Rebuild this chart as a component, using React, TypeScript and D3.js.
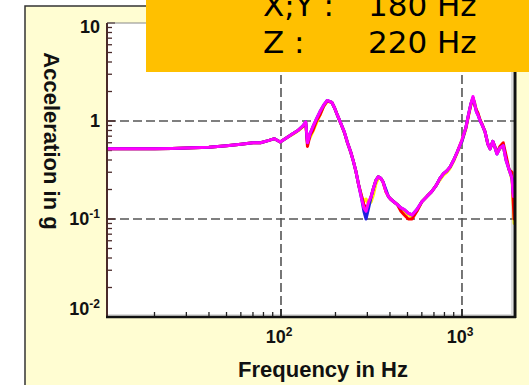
import React from "react";
import * as d3 from "d3";

const freqs = [11, 15, 20, 25, 30, 40, 50, 60, 70, 77, 85, 92, 99, 108, 116, 124, 132, 137, 140, 145, 150, 157, 164, 172, 180, 191, 198, 206, 215, 224, 233, 243, 251, 259, 269, 279, 287, 295, 305, 315, 325, 335, 345, 356, 366, 380, 392, 403, 420, 440, 460, 480, 505, 530, 563, 600, 640, 680, 720, 755, 790, 825, 860, 900, 940, 1000, 1050, 1090, 1120, 1150, 1175, 1200, 1226, 1260, 1290, 1340, 1390, 1430, 1480, 1520, 1560, 1620, 1690, 1750, 1820, 1890, 1920, 1940, 1955];

const yellowVals = [0.52, 0.52, 0.52, 0.525, 0.53, 0.54, 0.56, 0.58, 0.60, 0.60, 0.63, 0.66, 0.61, 0.68, 0.73, 0.79, 0.87, 0.95, 0.62, 0.68, 0.78, 0.95, 1.15, 1.40, 1.58, 1.55, 1.35, 1.12, 0.93, 0.77, 0.60, 0.48, 0.39, 0.31, 0.22, 0.17, 0.15, 0.16, 0.14, 0.15, 0.18, 0.23, 0.26, 0.26, 0.24, 0.19, 0.17, 0.16, 0.15, 0.14, 0.13, 0.12, 0.11, 0.105, 0.12, 0.15, 0.17, 0.19, 0.22, 0.25, 0.28, 0.30, 0.33, 0.39, 0.47, 0.62, 0.82, 1.15, 1.45, 1.70, 1.55, 1.30, 1.18, 1.02, 0.93, 0.78, 0.58, 0.53, 0.60, 0.54, 0.47, 0.52, 0.55, 0.42, 0.32, 0.25, 0.14, 0.09, 0.16];

const redVals = [0.52, 0.52, 0.52, 0.525, 0.53, 0.54, 0.56, 0.58, 0.60, 0.60, 0.63, 0.66, 0.61, 0.68, 0.74, 0.80, 0.88, 0.96, 0.55, 0.72, 0.80, 1.00, 1.15, 1.42, 1.60, 1.55, 1.35, 1.12, 0.92, 0.76, 0.60, 0.48, 0.39, 0.31, 0.22, 0.17, 0.14, 0.13, 0.14, 0.17, 0.21, 0.25, 0.27, 0.26, 0.24, 0.19, 0.17, 0.16, 0.15, 0.14, 0.12, 0.11, 0.10, 0.10, 0.12, 0.15, 0.17, 0.19, 0.22, 0.26, 0.29, 0.31, 0.34, 0.40, 0.48, 0.64, 0.85, 1.18, 1.48, 1.72, 1.45, 1.30, 1.20, 1.02, 0.93, 0.78, 0.58, 0.52, 0.62, 0.55, 0.47, 0.55, 0.60, 0.45, 0.32, 0.30, 0.15, 0.10, 0.12];

const blueVals = [0.52, 0.52, 0.52, 0.525, 0.53, 0.54, 0.56, 0.58, 0.60, 0.60, 0.63, 0.66, 0.61, 0.68, 0.74, 0.80, 0.89, 0.98, 0.60, 0.75, 0.87, 1.05, 1.24, 1.45, 1.62, 1.55, 1.35, 1.12, 0.93, 0.77, 0.60, 0.48, 0.39, 0.31, 0.22, 0.16, 0.12, 0.10, 0.13, 0.17, 0.21, 0.25, 0.27, 0.26, 0.24, 0.20, 0.17, 0.16, 0.15, 0.14, 0.13, 0.125, 0.115, 0.11, 0.125, 0.15, 0.17, 0.19, 0.22, 0.26, 0.29, 0.31, 0.34, 0.40, 0.48, 0.62, 0.85, 1.20, 1.50, 1.72, 1.50, 1.25, 1.15, 1.00, 0.92, 0.78, 0.58, 0.52, 0.62, 0.54, 0.46, 0.53, 0.56, 0.40, 0.32, 0.26, 0.18, 0.25, 0.21];

const magentaVals = [0.52, 0.52, 0.52, 0.525, 0.53, 0.54, 0.56, 0.58, 0.60, 0.60, 0.63, 0.66, 0.61, 0.68, 0.74, 0.80, 0.89, 0.98, 0.60, 0.75, 0.87, 1.05, 1.24, 1.45, 1.62, 1.55, 1.35, 1.12, 0.93, 0.77, 0.60, 0.48, 0.39, 0.31, 0.22, 0.16, 0.13, 0.12, 0.15, 0.17, 0.21, 0.25, 0.27, 0.26, 0.24, 0.19, 0.17, 0.16, 0.15, 0.14, 0.13, 0.125, 0.115, 0.11, 0.125, 0.15, 0.17, 0.19, 0.22, 0.26, 0.29, 0.31, 0.34, 0.40, 0.48, 0.64, 0.85, 1.20, 1.50, 1.78, 1.50, 1.25, 1.15, 1.00, 0.92, 0.78, 0.58, 0.52, 0.62, 0.54, 0.46, 0.53, 0.56, 0.40, 0.32, 0.26, 0.17, 0.22, 0.20];

const seriesNames = ["Yellow", "Red", "Blue", "Magenta"];
const seriesColors = ["#FFF200", "#FF0000", "#2020E0", "#FF00FF"];
const seriesValues = [yellowVals, redVals, blueVals, magentaVals];

const yTicks = [10, 1, 0.1, 0.01];
const yTickBase = ["10", "1", "10", "10"];
const yTickExp = ["", "", "-1", "-2"];
const xTicks = [100, 1000];
const xTickBase = ["10", "10"];
const xTickExp = ["2", "3"];
const gridY = [1, 0.1];
const gridX = [100, 1000];

const boxLine1 = ["X;Y :", "180 Hz"];
const boxLine2 = ["Z :", "220 Hz"];
const xTitle = "Frequency in Hz";
const yTitle = "Acceleration in g";

export default function App() {
  const W = 529, H = 385;
  const L = 107, R = 515, T = 23, B = 317;
  const x = d3.scaleLog().domain([10.93, 1963]).range([L, R]);
  const y = d3.scaleLog().domain([0.01, 10]).range([B, T]);
  const line = d3
    .line<[number, number]>()
    .x((d) => x(d[0]))
    .y((d) => y(d[1]));

  const yMinor: number[] = [];
  [0.01, 0.1, 1].forEach((dd) => {
    for (let k = 2; k <= 9; k++) yMinor.push(k * dd);
  });
  const xMinor: number[] = [];
  [10, 100, 1000].forEach((dd) => {
    for (let k = 2; k <= 9; k++) {
      const v = k * dd;
      if (v > 10.93 && v < 1963) xMinor.push(v);
    }
  });

  const font = "'Liberation Sans', Arial, sans-serif";
  const boxFont = "'DejaVu Sans', sans-serif";

  return (
    <svg
      width={W}
      height={H}
      style={{ position: "absolute", left: 0, top: 0 }}
      xmlns="http://www.w3.org/2000/svg"
    >
      <rect x={0} y={0} width={W} height={H} fill="#ffffff" />
      <rect x={25} y={6} width={540} height={420} fill="#FFFDD2" stroke="#333" strokeWidth={1.5} />
      <rect x={L} y={T} width={R - L} height={B - T} fill="#ffffff" />
      <defs>
        <clipPath id="plotclip">
          <rect x={L} y={T} width={R - L} height={B - T} />
        </clipPath>
      </defs>
      <line x1={L} x2={R - 2} y1={B - 2} y2={B - 2} stroke="#ddd" strokeWidth={2} />
      <line x1={R - 3} x2={R - 3} y1={T} y2={B} stroke="#ddd" strokeWidth={2} />
      {gridY.map((g, i) => (
        <line key={"gy" + i} x1={L} x2={R} y1={y(g)} y2={y(g)} stroke="#555" strokeWidth={1.6} strokeDasharray="9,4" />
      ))}
      {gridX.map((g, i) => (
        <line key={"gx" + i} x1={x(g)} x2={x(g)} y1={T} y2={B} stroke="#555" strokeWidth={1.6} strokeDasharray="9,4" />
      ))}
      {yMinor.map((v, i) => (
        <line key={"ym" + i} x1={L} x2={L + 5} y1={y(v)} y2={y(v)} stroke="#4a2a2a" strokeWidth={1.3} />
      ))}
      {yTicks.map((v, i) => (
        <line key={"yM" + i} x1={L} x2={L + 8} y1={y(v)} y2={y(v)} stroke="#4a2a2a" strokeWidth={1.5} />
      ))}
      {xMinor.map((v, i) => (
        <line key={"xm" + i} x1={x(v)} x2={x(v)} y1={B} y2={B - 5} stroke="#222" strokeWidth={1.3} />
      ))}
      {xTicks.map((v, i) => (
        <line key={"xM" + i} x1={x(v)} x2={x(v)} y1={B} y2={B - 8} stroke="#222" strokeWidth={1.5} />
      ))}
      <g clipPath="url(#plotclip)">
        {seriesValues.map((vals, si) => (
          <path
            key={seriesNames[si]}
            d={line(freqs.map((f, i) => [f, vals[i]] as [number, number])) || ""}
            fill="none"
            stroke={seriesColors[si]}
            strokeWidth={3}
            strokeLinejoin="round"
          />
        ))}
      </g>
      <line x1={L} x2={R} y1={T} y2={T} stroke="#888" strokeWidth={1} />
      <line x1={L} x2={L} y1={T} y2={B} stroke="#4a2a2a" strokeWidth={2} />
      <line x1={L - 1} x2={R + 1} y1={B} y2={B} stroke="#111" strokeWidth={2.5} />
      <line x1={R} x2={R} y1={T - 2} y2={B + 1} stroke="#111" strokeWidth={3} />
      {yTicks.map((v, i) => (
        <text
          key={"yl" + i}
          x={100}
          y={Math.min(Math.max(y(v) + 6, 33), 315)}
          textAnchor="end"
          fontFamily={font}
          fontWeight="bold"
          fontSize={18}
          fill="#111"
        >
          {yTickBase[i]}
          {yTickExp[i] && (
            <tspan fontSize={12} dy={-7}>
              {yTickExp[i]}
            </tspan>
          )}
        </text>
      ))}
      {xTicks.map((v, i) => (
        <text
          key={"xl" + i}
          x={x(v) - 2}
          y={343}
          textAnchor="middle"
          fontFamily={font}
          fontWeight="bold"
          fontSize={18}
          fill="#111"
        >
          {xTickBase[i]}
          <tspan fontSize={12} dy={-7}>
            {xTickExp[i]}
          </tspan>
        </text>
      ))}
      <text x={323} y={377} textAnchor="middle" fontFamily={font} fontWeight="bold" fontSize={22} fill="#111">
        {xTitle}
      </text>
      <text
        transform="translate(44,141) rotate(90)"
        textAnchor="middle"
        fontFamily={font}
        fontWeight="bold"
        fontSize={22}
        fill="#111"
      >
        {yTitle}
      </text>
      <rect x={146} y={0} width={400} height={72} fill="#FFC000" />
      <text x={263} y={16} fontFamily={boxFont} fontSize={31} fill="#000">
        {boxLine1[0]}
      </text>
      <text x={368} y={16} fontFamily={boxFont} fontSize={31} fill="#000">
        {boxLine1[1]}
      </text>
      <text x={263} y={53} fontFamily={boxFont} fontSize={31} fill="#000">
        {boxLine2[0]}
      </text>
      <text x={368} y={53} fontFamily={boxFont} fontSize={31} fill="#000">
        {boxLine2[1]}
      </text>
    </svg>
  );
}
